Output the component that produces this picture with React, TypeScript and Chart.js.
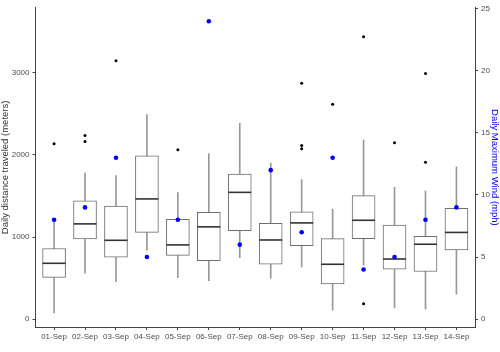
import React, { useEffect, useRef } from "react";
import { Chart, registerables } from "chart.js";

Chart.register(...registerables);

const days = ["01-Sep", "02-Sep", "03-Sep", "04-Sep", "05-Sep", "06-Sep", "07-Sep", "08-Sep", "09-Sep", "10-Sep", "11-Sep", "12-Sep", "13-Sep", "14-Sep"];
const q1 = [508, 976, 756, 1056, 776, 712, 1076, 668, 896, 428, 980, 608, 580, 844];
const median = [680, 1160, 960, 1464, 904, 1124, 1544, 964, 1172, 668, 1204, 732, 912, 1056];
const q3 = [860, 1440, 1376, 1988, 1216, 1300, 1768, 1168, 1308, 980, 1504, 1144, 1008, 1348];
const whiskerLow = [76, 560, 456, 840, 504, 468, 748, 500, 636, 108, 656, 136, 120, 304];
const whiskerHigh = [1200, 1780, 1748, 2492, 1540, 2016, 2384, 1900, 1700, 1340, 2180, 1604, 1560, 1856];
const outliers: number[][] = [[2136], [2236, 2164], [3148], [], [2064], [], [], [], [2872, 2116, 2076], [2616], [3440, 188], [2148], [2992, 1912], []];
const maxWind = [8, 9, 13, 5, 8, 24, 6, 12, 7, 13, 4, 5, 8, 9];
const distanceTicks = [0, 1000, 2000, 3000];
const windTicks = [0, 5, 10, 15, 20, 25];
const leftTitle = "Daily distance traveled (meters)";
const rightTitle = "Daily Maximum Wind (mph)";

const BOX_W = 23;
const FONT = "'Liberation Sans', Arial, sans-serif";

const boxPlugin = {
  id: "boxExtras",
  afterDatasetDraw(chart: any, args: any) {
    if (args.index !== 2) return;
    const { ctx } = chart;
    const xs = chart.scales.x;
    const ys = chart.scales.y;
    ctx.save();
    ctx.strokeStyle = "#333333";
    ctx.lineWidth = 1.6;
    median.forEach((m, i) => {
      const x = xs.getPixelForValue(i);
      const y = ys.getPixelForValue(m);
      ctx.beginPath();
      ctx.moveTo(x - BOX_W / 2, y);
      ctx.lineTo(x + BOX_W / 2, y);
      ctx.stroke();
    });
    ctx.restore();
  },
  afterDraw(chart: any) {
    const { ctx, chartArea } = chart;
    ctx.save();
    ctx.translate(5.5, (chartArea.top + chartArea.bottom) / 2);
    ctx.rotate(-Math.PI / 2);
    ctx.fillStyle = "#333333";
    ctx.font = "9.5px " + FONT;
    ctx.textAlign = "center";
    ctx.textBaseline = "middle";
    ctx.fillText(leftTitle, 0, 0);
    ctx.restore();
  },
};

export default function App() {
  const ref = useRef<HTMLCanvasElement | null>(null);
  useEffect(() => {
    if (!ref.current) return;
    const outlierPts: { x: number; y: number }[] = [];
    outliers.forEach((arr, i) => arr.forEach((v) => outlierPts.push({ x: i, y: v })));
    const chart = new Chart(ref.current, {
      type: "bar",
      data: {
        datasets: [
          {
            type: "scatter",
            label: "wind",
            data: maxWind.map((v, i) => ({ x: i, y: v })),
            yAxisID: "y2",
            xAxisID: "x",
            backgroundColor: "#0000ff",
            borderColor: "#0000ff",
            pointRadius: 2.3,
            borderWidth: 0,
          } as any,
          {
            type: "scatter",
            label: "outliers",
            data: outlierPts,
            yAxisID: "y",
            xAxisID: "x",
            backgroundColor: "#000000",
            borderColor: "#000000",
            pointRadius: 1.5,
            borderWidth: 0,
          } as any,
          {
            type: "bar",
            label: "box",
            data: days.map((_, i) => ({ x: i, y: [q1[i], q3[i]] })),
            yAxisID: "y",
            xAxisID: "x",
            grouped: false,
            barThickness: BOX_W,
            backgroundColor: "#ffffff",
            borderColor: "#6e6e6e",
            borderWidth: 1,
            borderSkipped: false,
          } as any,
          {
            type: "bar",
            label: "whisker",
            data: days.map((_, i) => ({ x: i, y: [whiskerLow[i], whiskerHigh[i]] })),
            yAxisID: "y",
            xAxisID: "x",
            grouped: false,
            barThickness: 1,
            backgroundColor: "#999999",
            borderWidth: 0,
          } as any,
        ],
      },
      options: {
        responsive: false,
        animation: false,
        devicePixelRatio: 1,
        layout: { padding: { top: 3, left: 0, right: 0, bottom: 0 } },
        plugins: { legend: { display: false }, tooltip: { enabled: false } },
        scales: {
          x: {
            type: "linear",
            min: -0.6,
            max: 13.6,
            offset: false,
            afterBuildTicks: (axis: any) => {
              axis.ticks = days.map((_, i) => ({ value: i }));
            },
            afterFit: (s: any) => {
              s.height = 25;
            },
            ticks: {
              callback: (v: any) => days[v] ?? "",
              color: "#4d4d4d",
              font: { family: FONT, size: 8 },
              padding: 2,
              maxRotation: 0,
              autoSkip: false,
            },
            grid: { display: true, drawOnChartArea: false, drawTicks: true, tickLength: 3, color: "#444444", offset: false },
            border: { display: true, color: "#444444", width: 1 },
          },
          y: {
            type: "linear",
            position: "left",
            min: -96,
            max: 3792,
            afterBuildTicks: (axis: any) => {
              axis.ticks = distanceTicks.map((v) => ({ value: v }));
            },
            afterFit: (s: any) => {
              s.width = 35.5;
            },
            ticks: {
              callback: (v: any) => String(v),
              autoSkip: false,
              color: "#4d4d4d",
              font: { family: FONT, size: 8 },
              padding: 3,
            },
            grid: { display: true, drawOnChartArea: false, drawTicks: true, tickLength: 3, color: "#444444" },
            border: { display: true, color: "#444444", width: 1 },
            title: { display: false },
          },
          y2: {
            type: "linear",
            position: "right",
            min: -0.635,
            max: 25.08,
            afterBuildTicks: (axis: any) => {
              axis.ticks = windTicks.map((v) => ({ value: v }));
            },
            afterFit: (s: any) => {
              s.width = 25;
            },
            ticks: {
              callback: (v: any) => String(v),
              autoSkip: false,
              color: "#4d4d4d",
              font: { family: FONT, size: 8 },
              padding: 3,
            },
            grid: { display: true, drawOnChartArea: false, drawTicks: true, tickLength: 3, color: "#444444" },
            border: { display: true, color: "#444444", width: 1 },
            title: {
              display: true,
              text: rightTitle,
              color: "#0000ff",
              font: { family: FONT, size: 9.5 },
              padding: { top: 0, bottom: 0 },
            },
          },
        },
      } as any,
      plugins: [boxPlugin],
    });
    return () => chart.destroy();
  }, []);
  return (
    <div style={{ position: "fixed", left: 0, top: 0, width: 500, height: 352, background: "#ffffff" }}>
      <canvas ref={ref} width={500} height={352} style={{ width: 500, height: 352, display: "block" }} />
    </div>
  );
}
